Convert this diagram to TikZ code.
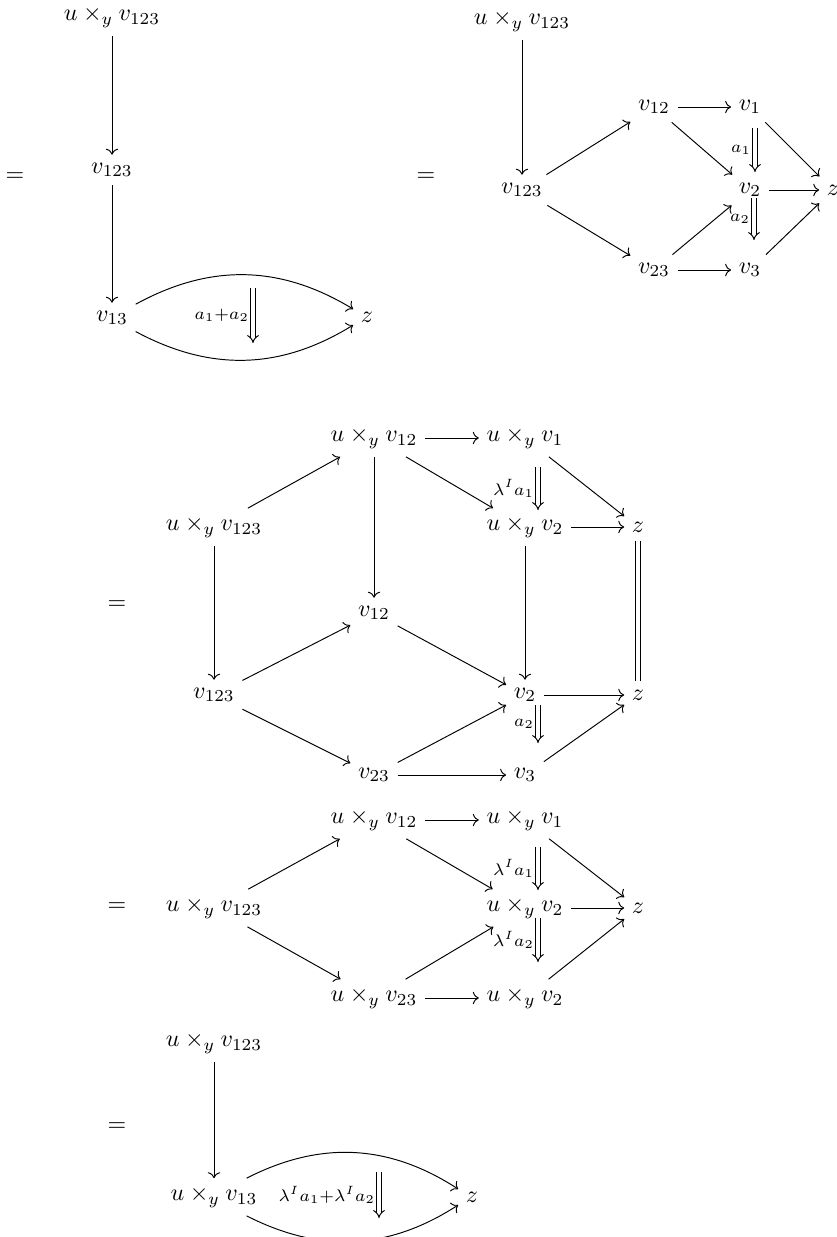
\documentclass[tikz,border=0pt]{standalone}
\usetikzlibrary{arrows.meta}
\begin{document}
\begin{tikzpicture}[x=0.41667pt, y=-0.41667pt,
  obj/.style={inner xsep=3pt, inner ysep=3.3pt},
  arr/.style={->, line width=0.4pt},
  twocell/.style={double, double distance=1.3pt, line width=0.4pt, -{Implies}},
  eqline/.style={double, double distance=1.4pt, line width=0.4pt},
  lbl/.style={inner sep=1.5pt}]
\useasboundingbox (0,0) rectangle (837,1237);
% ---------- diagram 1
\node (e1) at (15,177) {$=$};
\node[obj] (a1) at (112,17) {$u\times_y v_{123}$};
\node[obj] (a2) at (112,170) {$v_{123}$};
\node[obj] (a3) at (112,318) {$v_{13}$};
\node[obj] (a4) at (367,317) {$z$};
\draw[arr] (a1) -- (a2);
\draw[arr] (a2) -- (a3);
\draw[arr] (a3) to[bend left=30] (a4);
\draw[arr] (a3) to[bend right=30] (a4);
\coordinate (a5) at (253,288);
\coordinate (a6) at (253,343);
\draw[twocell] (a5) -- node[lbl,left]{$\scriptstyle a_1+a_2$} (a6);
% ---------- diagram 2
\node (e2) at (426,177) {$=$};
\node[obj] (b1) at (522,21) {$u\times_y v_{123}$};
\node[obj] (b2) at (522,190) {$v_{123}$};
\node[obj] (b3) at (654,107) {$v_{12}$};
\node[obj] (b4) at (750,107) {$v_1$};
\node[obj] (b5) at (750,190) {$v_2$};
\node[obj] (b6) at (833,190) {$z$};
\node[obj] (b7) at (654,270) {$v_{23}$};
\node[obj] (b8) at (750,270) {$v_3$};
\draw[arr] (b1) -- (b2);
\draw[arr] (b2) -- (b3);
\draw[arr] (b2) -- (b7);
\draw[arr] (b3) -- (b4);
\draw[arr] (b3) -- (b5);
\draw[arr] (b4) -- (b6);
\draw[arr] (b5) -- (b6);
\draw[arr] (b7) -- (b5);
\draw[arr] (b7) -- (b8);
\draw[arr] (b8) -- (b6);
\coordinate (b9) at (755,128);
\coordinate (b10) at (755,172);
\coordinate (b11) at (754,198);
\coordinate (b12) at (754,240);
\draw[twocell] (b9) -- node[lbl,left]{$\scriptstyle a_1$} (b10);
\draw[twocell] (b11) -- node[lbl,left]{$\scriptstyle a_2$} (b12);
% ---------- diagram 3
\node (e3) at (117,605) {$=$};
\node[obj] (c1) at (214,527) {$u\times_y v_{123}$};
\node[obj] (c2) at (374,438) {$u\times_y v_{12}$};
\node[obj] (c3) at (525,438) {$u\times_y v_{1}$};
\node[obj] (c4) at (525,527) {$u\times_y v_{2}$};
\node[obj] (c5) at (638,527) {$z$};
\node[obj] (c6) at (374,613) {$v_{12}$};
\node[obj] (c7) at (214,695) {$v_{123}$};
\node[obj] (c8) at (525,695) {$v_{2}$};
\node[obj] (c9) at (638,695) {$z$};
\node[obj] (c10) at (374,775) {$v_{23}$};
\node[obj] (c11) at (525,775) {$v_{3}$};
\draw[arr] (c1) -- (c2);
\draw[arr] (c1) -- (c7);
\draw[arr] (c2) -- (c3);
\draw[arr] (c2) -- (c6);
\draw[arr] (c2) -- (c4);
\draw[arr] (c3) -- (c5);
\draw[arr] (c4) -- (c5);
\draw[arr] (c4) -- (c8);
\draw[eqline] (c5) -- (c9);
\draw[arr] (c7) -- (c6);
\draw[arr] (c7) -- (c10);
\draw[arr] (c6) -- (c8);
\draw[arr] (c8) -- (c9);
\draw[arr] (c10) -- (c8);
\draw[arr] (c10) -- (c11);
\draw[arr] (c11) -- (c9);
\coordinate (c12) at (538,467);
\coordinate (c13) at (538,510);
\coordinate (c14) at (538,705);
\coordinate (c15) at (538,743);
\draw[twocell] (c12) -- node[lbl,left]{$\scriptstyle \lambda^I a_1$} (c13);
\draw[twocell] (c14) -- node[lbl,left]{$\scriptstyle a_2$} (c15);
% ---------- diagram 4
\node (e4) at (117,907) {$=$};
\node[obj] (d1) at (214,908) {$u\times_y v_{123}$};
\node[obj] (d2) at (374,820) {$u\times_y v_{12}$};
\node[obj] (d3) at (525,820) {$u\times_y v_{1}$};
\node[obj] (d4) at (525,908) {$u\times_y v_{2}$};
\node[obj] (d5) at (638,908) {$z$};
\node[obj] (d6) at (374,998) {$u\times_y v_{23}$};
\node[obj] (d7) at (525,998) {$u\times_y v_{2}$};
\draw[arr] (d1) -- (d2);
\draw[arr] (d1) -- (d6);
\draw[arr] (d2) -- (d3);
\draw[arr] (d2) -- (d4);
\draw[arr] (d3) -- (d5);
\draw[arr] (d4) -- (d5);
\draw[arr] (d6) -- (d4);
\draw[arr] (d6) -- (d7);
\draw[arr] (d7) -- (d5);
\coordinate (d8) at (538,847);
\coordinate (d9) at (538,890);
\coordinate (d10) at (538,918);
\coordinate (d11) at (538,962);
\draw[twocell] (d8) -- node[lbl,left]{$\scriptstyle \lambda^I a_1$} (d9);
\draw[twocell] (d10) -- node[lbl,left]{$\scriptstyle \lambda^I a_2$} (d11);
% ---------- diagram 5
\node (e5) at (117,1127) {$=$};
\node[obj] (f1) at (214,1043) {$u\times_y v_{123}$};
\node[obj] (f2) at (214,1197) {$u\times_y v_{13}$};
\node[obj] (f3) at (472,1197) {$z$};
\draw[arr] (f1) -- (f2);
\draw[arr] (f2) to[bend left=30] (f3);
\draw[arr] (f2) to[bend right=30] (f3);
\coordinate (f4) at (379,1172);
\coordinate (f5) at (379,1218);
\draw[twocell] (f4) -- node[lbl,left]{$\scriptstyle \lambda^I a_1+\lambda^I a_2$} (f5);
\end{tikzpicture}
\end{document}
